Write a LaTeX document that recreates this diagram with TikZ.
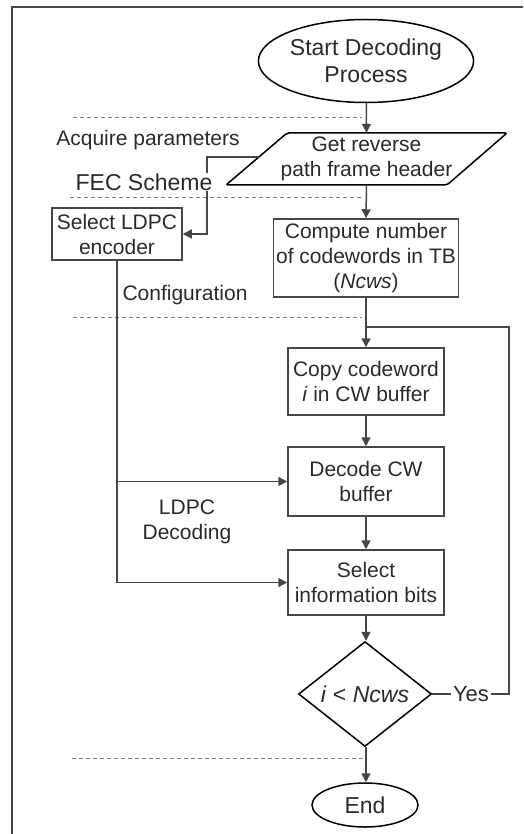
\documentclass[tikz,border=0pt]{standalone}
\usepackage{fontspec}
\setmainfont{Liberation Sans}
\usetikzlibrary{shapes.geometric,arrows.meta}
\definecolor{txt}{HTML}{2A2A2A}
\definecolor{ln}{HTML}{464646}
\tikzset{
  base/.style={font=\fontsize{21}{25}\selectfont, text=txt, align=center, inner sep=0pt},
  bigf/.style={font=\fontsize{23}{27}\selectfont},
  boxn/.style={base, draw=ln, line width=1.5pt, rectangle},
  term/.style={base, bigf, draw=black, line width=1.5pt, ellipse},
  conn/.style={draw=ln, line width=1.5pt, -{Triangle[length=9pt,width=9pt]}},
  plain/.style={draw=ln, line width=1.5pt},
  sep/.style={draw=gray, line width=1pt, dash pattern=on 4pt off 3pt},
  lbl/.style={base}
}
\begin{document}
\begin{tikzpicture}[x=1pt,y=-1pt]
\useasboundingbox (0,0) rectangle (523,834);
% frame
\draw[draw=ln, line width=1.5pt] (12,834) -- (12,7) -- (523,7);

% dashed separators
\draw[sep] (73,118) -- (362,118);
\draw[sep] (70,198) -- (362,198);
\draw[sep] (73,317) -- (362,317);
\draw[sep] (72,758) -- (366,758);

% nodes
\node[term, minimum width=200pt, minimum height=83pt] (start) at (366,61) {Start Decoding\\Process};
\node[base, minimum width=221pt, minimum height=52pt] (hdr) at (366.5,159) {Get reverse\\path frame header};
\draw[black, line width=1.5pt, rounded corners=2pt] (226,185) -- (447,185) -- (507,133) -- (287,133) -- cycle;
\coordinate (hdrL) at (258,157);

\node[boxn, minimum width=130pt, minimum height=52pt] (enc) at (117,234) {Select LDPC\\encoder};
\node[boxn, minimum width=185pt, minimum height=78pt] (cmp) at (366,258) {Compute number\\of codewords in TB\\(\textit{Ncws})};
\node[boxn, minimum width=156pt, minimum height=67pt] (copy) at (366,381.5) {Copy codeword\\\textit{i} in CW buffer};
\node[boxn, minimum width=156pt, minimum height=69pt] (dec) at (366,481.5) {Decode CW\\buffer};
\node[boxn, minimum width=156pt, minimum height=65pt] (sel) at (366,582.5) {Select\\information bits};
\node[base, bigf, draw=black, line width=1.5pt, diamond, minimum width=133pt, minimum height=104pt] (dia) at (365,694) {\textit{i} < \textit{Ncws}};
\node[term, minimum width=106pt, minimum height=44pt] (end) at (365,805) {End};

% labels
\node[lbl] (acq) at (148,140) {Acquire parameters};
\node[lbl, fill=white, inner sep=2pt] (yes) at (471,694) {\fontsize{22}{26}\selectfont Yes};

% connectors
\draw[conn] (start) -- (hdr.north);
\draw[conn] (hdr.south) -- (cmp.north);
\draw[conn] (hdrL) -- ++(-51,0) |- (enc.east);
\node[lbl, bigf, fill=white, inner sep=1pt] (fec) at (144,182) {FEC Scheme};
\node[lbl] (cfg) at (185,295) {Configuration};
\node[lbl] (ldpc) at (187,522) {LDPC\\Decoding};
\coordinate (junc) at (366,327);
\coordinate (loopR) at (509,327);
\draw[conn] (cmp.south) -- (copy.north);
\draw[conn] (copy) -- (dec);
\draw[conn] (dec) -- (sel);
\draw[conn] (sel.south) -- (sel.south |- dia.north);
\draw[conn] (dia.south -| sel.south) -- (end.north -| sel.south);
\draw[conn] (enc.south) |- (sel.west);
\draw[conn] (enc.south |- dec.west) -- (dec.west);
\draw[plain] (dia.east) -- (yes.west);
\draw[plain] (yes.east) -| (loopR) -- (junc);
\end{tikzpicture}
\end{document}
